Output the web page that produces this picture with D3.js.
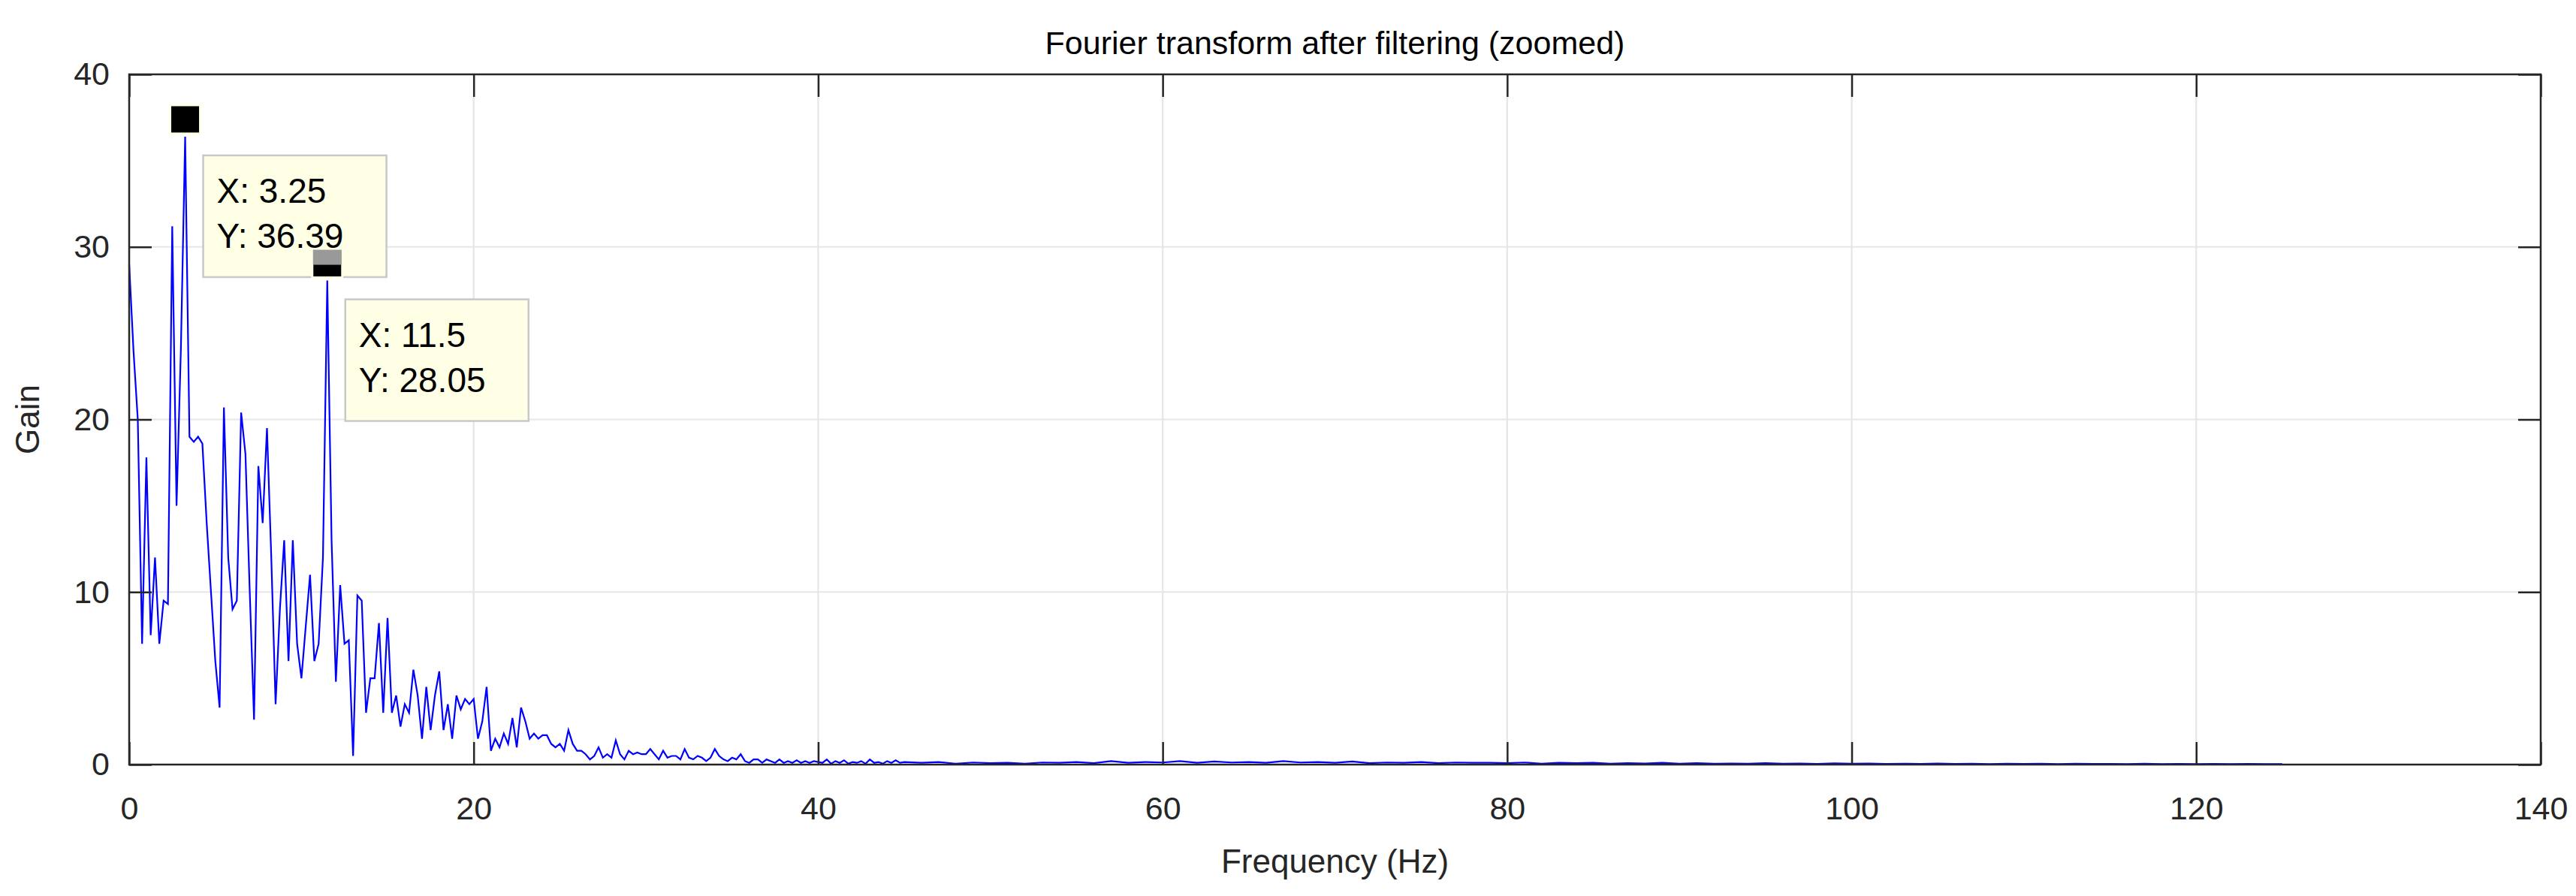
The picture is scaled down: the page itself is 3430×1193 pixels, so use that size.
<!DOCTYPE html>
<html><head><meta charset="utf-8">
<script src="https://cdn.jsdelivr.net/npm/d3@7"></script>
<style>body{margin:0;background:#fff}text{font-family:"Liberation Sans",Arial,sans-serif}</style>
</head><body><svg id="c" width="3430" height="1193"></svg>
<script>
// Gain at 0.25 Hz steps from 0 to 45 Hz
const lowStep = 0.25;
const lowGain = [
29,24,20,7,17.8,7.5,12,7,9.5,9.3,31.2,15,24,36.39,19,18.7,19,18.6,14,10,
6,3.3,20.7,12,9,9.5,20.4,18,10,2.6,17.3,14,19.5,12,3.5,9,13,6,13,7,
5,8,11,6,7,12,28.05,13,4.8,10.4,7,7.2,0.5,9.8,9.5,3,5,5,8.2,3,
8.5,3,4,2.2,3.5,3,5.5,4,1.5,4.5,2,4,5.4,2,3.5,1.5,4,3.2,3.8,3.5,
3.8,1.5,2.5,4.5,0.8,1.5,1,1.8,1.2,2.7,1,3.3,2.5,1.5,1.8,1.5,1.7,1.7,1.2,1,
1.2,0.8,2,1.2,0.8,0.8,0.6,0.3,0.5,1,0.4,0.6,0.4,1.4,0.6,0.3,0.8,0.6,0.7,0.6,
0.6,0.9,0.6,0.3,0.8,0.4,0.5,0.5,0.3,0.9,0.4,0.3,0.5,0.4,0.2,0.4,0.9,0.5,0.3,0.2,
0.4,0.3,0.6,0.2,0.1,0.3,0.3,0.1,0.3,0.2,0.1,0.3,0.1,0.2,0.1,0.25,0.1,0.2,0.1,0.2,
0.15,0.1,0.3,0.05,0.2,0.1,0.25,0.05,0.15,0.1,0.2,0.05,0.3,0.1,0.15,0.05,0.2,0.1,0.25,0.1,0.15];
// Tail: 46..125 Hz at 1 Hz steps
const tailStart = 46;
const tailGain = [
0.1,0.15,0.05,0.12,0.08,0.1,0.05,0.12,0.1,0.15,0.08,0.2,0.1,0.15,0.12,0.2,0.1,0.18,0.12,0.15,
0.1,0.2,0.12,0.15,0.1,0.18,0.08,0.12,0.1,0.15,0.08,0.12,0.1,0.1,0.08,0.12,0.05,0.1,0.08,0.1,
0.05,0.08,0.06,0.1,0.05,0.08,0.05,0.06,0.05,0.08,0.05,0.06,0.04,0.07,0.05,0.06,0.04,0.05,0.04,0.06,
0.04,0.05,0.03,0.05,0.04,0.05,0.03,0.05,0.04,0.04,0.03,0.05,0.03,0.04,0.03,0.04,0.03,0.04,0.03,0.03];
const xTicks = [0,20,40,60,80,100,120,140];
const yTicks = [0,10,20,30,40];
const tips = [{x:3.25,y:36.39,label:["X: 3.25","Y: 36.39"],gray:false},
              {x:11.5,y:28.05,label:["X: 11.5","Y: 28.05"],gray:true}];
const title = "Fourier transform after filtering (zoomed)";

const data = lowGain.map((g,i)=>({f:i*lowStep,g}))
  .concat(tailGain.map((g,i)=>({f:tailStart+i,g})));

const svg = d3.select("#c");
const L=172,R=3383,T=99,B=1018;
const x = d3.scaleLinear().domain([0,140]).range([L,R]);
const y = d3.scaleLinear().domain([0,40]).range([B,T]);

svg.append("g").selectAll("line").data(xTicks.slice(1,-1)).join("line")
  .attr("x1",d=>x(d)).attr("x2",d=>x(d)).attr("y1",T).attr("y2",B)
  .attr("stroke","#e6e6e6").attr("stroke-width",2.2);
svg.append("g").selectAll("line").data(yTicks.slice(1,-1)).join("line")
  .attr("y1",d=>y(d)).attr("y2",d=>y(d)).attr("x1",L).attr("x2",R)
  .attr("stroke","#e6e6e6").attr("stroke-width",2.2);

svg.append("path").datum(data)
  .attr("d",d3.line().x(d=>x(d.f)).y(d=>y(d.g)))
  .attr("fill","none").attr("stroke","#0000ff").attr("stroke-width",2.2);

const tk=30;
const ax = (g)=>g.call(s=>s.select(".domain").remove()).call(s=>s.selectAll("line").attr("stroke","#262626").attr("stroke-width",2.5))
  .call(s=>s.selectAll("text").attr("fill","#262626").style("font-size","43px"));
svg.append("g").attr("transform",`translate(0,${B})`)
  .call(d3.axisBottom(x).tickValues(xTicks).tickSize(-tk).tickPadding(42)).call(ax);
svg.append("g").attr("transform",`translate(0,${T})`)
  .call(d3.axisTop(x).tickValues(xTicks).tickSize(-tk).tickFormat("")).call(ax);
svg.append("g").attr("transform",`translate(${L},0)`)
  .call(d3.axisLeft(y).tickValues(yTicks).tickSize(-tk).tickPadding(26)).call(ax);
svg.append("g").attr("transform",`translate(${R},0)`)
  .call(d3.axisRight(y).tickValues(yTicks).tickSize(-tk).tickFormat("")).call(ax);
svg.append("rect").attr("x",L).attr("y",T).attr("width",R-L).attr("height",B-T)
  .attr("fill","none").attr("stroke","#262626").attr("stroke-width",2.5);

svg.append("text").attr("x",(L+R)/2).attr("y",72).attr("text-anchor","middle")
  .style("font-size","43px").attr("fill","#000").text(title);
svg.append("text").attr("x",(L+R)/2).attr("y",1162).attr("text-anchor","middle")
  .style("font-size","44px").attr("fill","#262626").text("Frequency (Hz)");
svg.append("text").attr("transform",`translate(52,${(T+B)/2}) rotate(-90)`).attr("text-anchor","middle")
  .style("font-size","44px").attr("fill","#262626").text("Gain");

tips.forEach(t=>{
  const px=x(t.x), py=y(t.y);
  const g=svg.append("g");
  g.append("rect").attr("x",px+24).attr("y",py+25).attr("width",244).attr("height",162)
    .attr("fill","#ffffe6").attr("stroke","#c8c8c8").attr("stroke-width",2.5);
  t.label.forEach((s,i)=>g.append("text").attr("x",px+42).attr("y",py+88+i*60)
    .style("font-size","46px").attr("fill","#000").text(s));
  const m=g.append("g");
  m.append("rect").attr("x",px-20).attr("y",py-42).attr("width",40).attr("height",38)
    .attr("fill","#000").attr("stroke","#ffffe6").attr("stroke-width",3);
  if(t.gray) m.append("rect").attr("x",px-19).attr("y",py-41).attr("width",38).attr("height",20).attr("fill","#999");
});
</script></body></html>
